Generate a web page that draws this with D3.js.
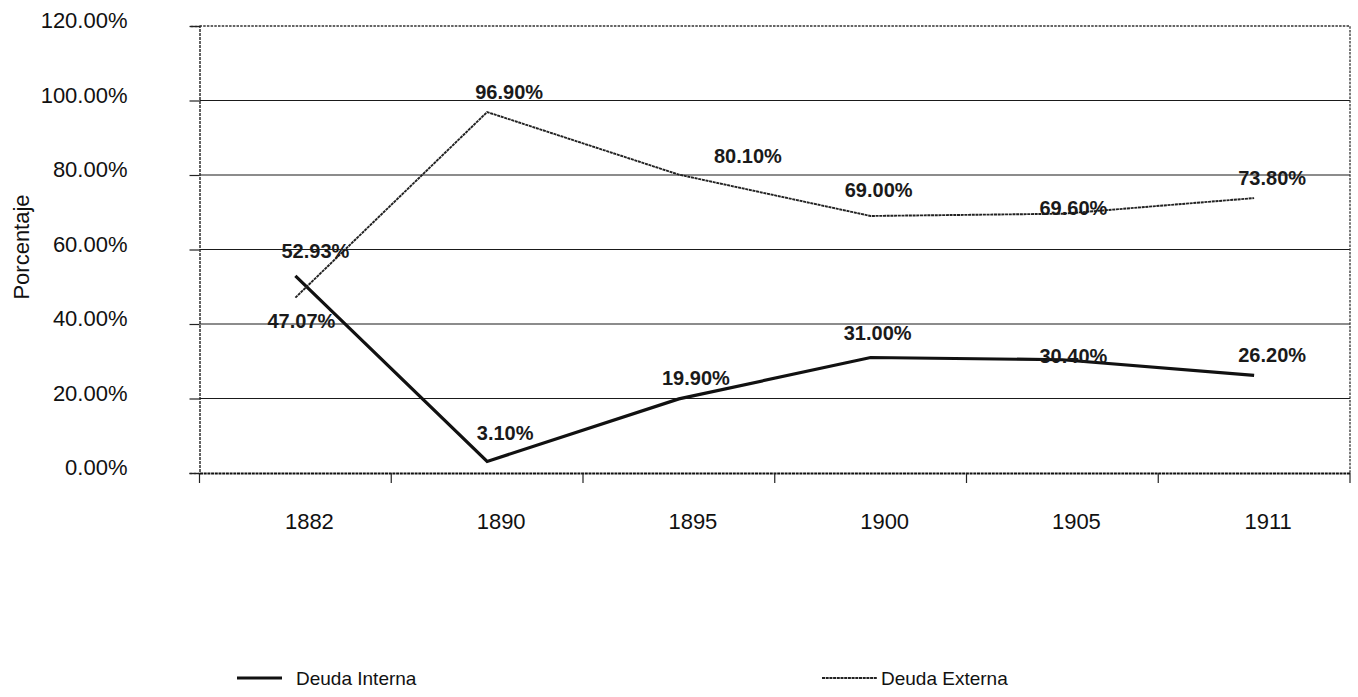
<!DOCTYPE html>
<html>
<head>
<meta charset="utf-8">
<script src="https://cdn.jsdelivr.net/npm/d3@7"></script>
<style>
  html, body { margin: 0; padding: 0; background: #fff; }
  svg { display: block; font-family: "Liberation Sans", Arial, sans-serif; }
</style>
</head>
<body>
<svg id="chart" width="1358" height="697"></svg>
<script>
const categories = ["1882", "1890", "1895", "1900", "1905", "1911"];
const deudaInterna = [52.93, 3.10, 19.90, 31.00, 30.40, 26.20];
const deudaExterna = [47.07, 96.90, 80.10, 69.00, 69.60, 73.80];
const yTickValues = [0, 20, 40, 60, 80, 100, 120];
const seriesNames = ["Deuda Interna", "Deuda Externa"];
const yAxisTitle = "Porcentaje";

(function () {
const svg = d3.select("#chart");
const pLeft = 199.5, pRight = 1350, pTop = 26, pBottom = 473;

const x = d3.scaleBand().domain(categories).range([pLeft, pRight]);
const y = d3.scaleLinear().domain([0, 120]).range([pBottom, pTop]);
const cx = c => x(c) + x.bandwidth() / 2;
const fmt = v => v.toFixed(2) + "%";

// gridlines
svg.append("g").selectAll("line")
  .data(yTickValues.filter(v => v > 0 && v < 120))
  .join("line")
  .attr("x1", pLeft).attr("x2", pRight)
  .attr("y1", d => y(d)).attr("y2", d => y(d))
  .attr("stroke", "#1a1a1a").attr("stroke-width", 1.1);

// plot frame (top, right dotted)
svg.append("path")
  .attr("d", `M${pLeft},${y(120)}H${pRight}V${pBottom}`)
  .attr("fill", "none").attr("stroke", "#333").attr("stroke-width", 1.3)
  .attr("stroke-dasharray", "2.5,1.2");

// y axis
const yAxis = svg.append("g").attr("transform", `translate(${pLeft},0)`)
  .call(d3.axisLeft(y).tickValues(yTickValues).tickSize(10).tickPadding(62).tickFormat(fmt));
yAxis.select(".domain").attr("stroke", "#222").attr("stroke-width", 1.4).attr("stroke-dasharray", "3,1");
yAxis.selectAll(".tick line").attr("stroke", "#222").attr("stroke-width", 1.2);
yAxis.selectAll(".tick text")
  .attr("font-size", 22).attr("fill", "#111").attr("dy", "0.08em")
  .attr("font-family", "'Liberation Sans', Arial, sans-serif");

// x axis
const xAxis = svg.append("g").attr("transform", `translate(0,${pBottom})`)
  .call(d3.axisBottom(x).tickSize(0));
xAxis.select(".domain").attr("stroke", "#111").attr("stroke-width", 2.2).attr("stroke-dasharray", "3,0.7");
xAxis.selectAll(".tick text")
  .attr("font-size", 22).attr("fill", "#111")
  .attr("y", 56).attr("dy", 0).attr("dx", 14)
  .attr("font-family", "'Liberation Sans', Arial, sans-serif");
svg.append("g").selectAll("line")
  .data(categories.map(c => x(c)).concat([pRight]))
  .join("line")
  .attr("x1", d => d).attr("x2", d => d)
  .attr("y1", pBottom).attr("y2", pBottom + 10)
  .attr("stroke", "#222").attr("stroke-width", 1.2);

// y axis title
svg.append("text")
  .attr("transform", "translate(29,247) rotate(-90)")
  .attr("text-anchor", "middle")
  .attr("font-size", 22).attr("fill", "#111")
  .text(yAxisTitle);

// lines
const line = d3.line().x((d, i) => cx(categories[i])).y(d => y(d));
svg.append("path").datum(deudaInterna)
  .attr("d", line).attr("fill", "none")
  .attr("stroke", "#111").attr("stroke-width", 3.2).attr("stroke-linejoin", "miter");
svg.append("path").datum(deudaExterna)
  .attr("d", line).attr("fill", "none")
  .attr("stroke", "#222").attr("stroke-width", 1.9).attr("stroke-dasharray", "3,0.7");

// data labels (placement offsets relative to each point, as in the reference)
const internaOffsets = [[20, -18], [18, -21], [17, -14], [7, -18], [11, 3], [18, -13]];
const externaOffsets = [[6, 30], [22, -13], [69, -12], [8, -19], [11, 1], [18, -13]];
function labels(values, offsets) {
  svg.append("g").selectAll("text")
    .data(values)
    .join("text")
    .attr("x", (d, i) => cx(categories[i]) + offsets[i][0])
    .attr("y", (d, i) => y(d) + offsets[i][1])
    .attr("text-anchor", "middle")
    .attr("font-size", 20).attr("font-weight", "bold").attr("fill", "#1a1a1a")
    .text(d => fmt(d));
}
labels(deudaInterna, internaOffsets);
labels(deudaExterna, externaOffsets);

// legend
const legend = svg.append("g");
const legendItems = [
  { name: seriesNames[0], x1: 237, x2: 282, tx: 296, width: 3.2, dash: null, color: "#111" },
  { name: seriesNames[1], x1: 822, x2: 877, tx: 881, width: 1.9, dash: "3,0.7", color: "#222" }
];
legendItems.forEach(it => {
  legend.append("line")
    .attr("x1", it.x1).attr("x2", it.x2).attr("y1", 678).attr("y2", 678)
    .attr("stroke", it.color).attr("stroke-width", it.width)
    .attr("stroke-dasharray", it.dash);
  legend.append("text")
    .attr("x", it.tx).attr("y", 685)
    .attr("font-size", 19).attr("fill", "#111")
    .text(it.name);
});
})();
</script>
</body>
</html>
